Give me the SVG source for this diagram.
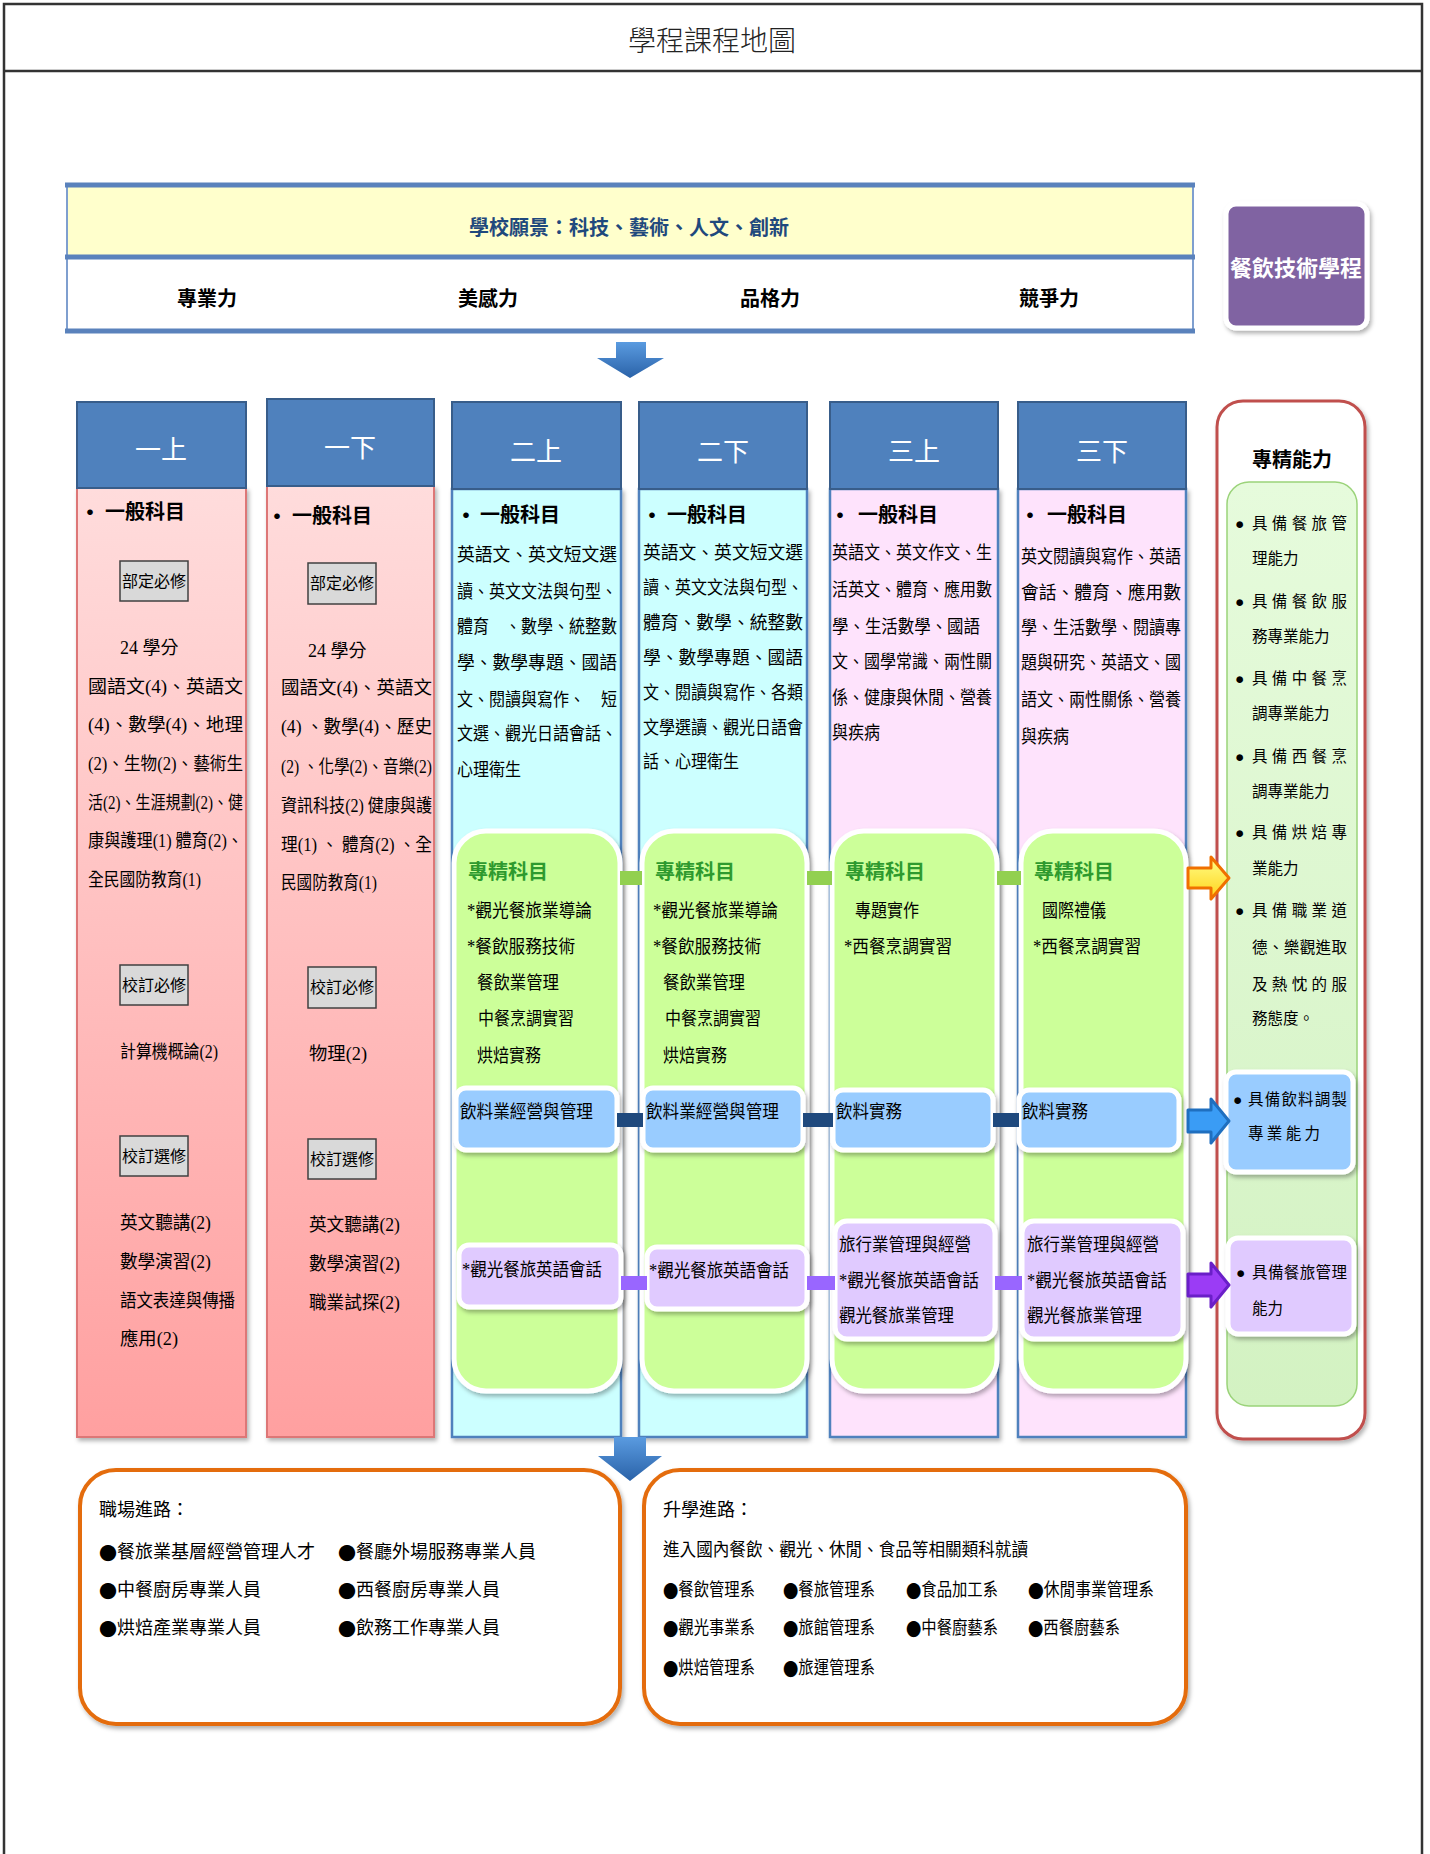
<svg xmlns="http://www.w3.org/2000/svg" width="1430" height="1854" viewBox="0 0 1430 1854">
<style>
.t{font-family:"Liberation Serif","Noto Sans CJK TC",sans-serif;font-size:16px;fill:#000;dominant-baseline:central}
.c{font-family:"Liberation Serif","Noto Sans CJK TC",sans-serif;font-size:18px;fill:#000;dominant-baseline:central}
.bl{font-family:"Noto Sans CJK TC",sans-serif}
.b{font-family:"Noto Sans CJK TC",sans-serif;font-weight:bold;fill:#000;dominant-baseline:central}
.hd{font-family:"Noto Sans CJK TC",sans-serif;font-size:26px;fill:#fff;text-anchor:middle;dominant-baseline:central}
.hdr{fill:#4f81bd;stroke:#385d8a;stroke-width:2}
.pink{fill:url(#gPink);stroke:#dd7777;stroke-width:2}
.cyan{fill:#ccffff;stroke:#4f81bd;stroke-width:2.5}
.lav{fill:#fee3fc;stroke:#4f81bd;stroke-width:2.5}
.grn{fill:#ccff99;stroke:#fff;stroke-width:5}
.blu{fill:#99ccff;stroke:#fff;stroke-width:5}
.pur{fill:#e0caff;stroke:#fff;stroke-width:5}
.tag{fill:#d9d9d9;stroke:#404040;stroke-width:1.5}
.gt{font-family:"Noto Sans CJK TC",sans-serif;font-weight:bold;font-size:20px;fill:#2e9a2e;dominant-baseline:central}
.rc{font-family:"Liberation Serif","Noto Sans CJK TC",sans-serif;font-size:15.5px;fill:#000;dominant-baseline:central}
.org{fill:#fff;stroke:#e46c0a;stroke-width:4}
</style>
<defs>
<filter id="sh" x="-10%" y="-10%" width="130%" height="130%"><feDropShadow dx="2" dy="3" stdDeviation="2" flood-color="#000" flood-opacity="0.3"/></filter>
<linearGradient id="gPink" x1="0" y1="0" x2="0" y2="1"><stop offset="0" stop-color="#ffdcdc"/><stop offset="1" stop-color="#ffa0a0"/></linearGradient>
<linearGradient id="gArrow" x1="0" y1="0" x2="0" y2="1"><stop offset="0" stop-color="#5a9be0"/><stop offset="1" stop-color="#2a62a8"/></linearGradient>
<linearGradient id="gYel" x1="0" y1="0" x2="0" y2="1"><stop offset="0" stop-color="#ffff88"/><stop offset="1" stop-color="#ffd21a"/></linearGradient>
<linearGradient id="gRG" x1="0" y1="0" x2="0" y2="1"><stop offset="0" stop-color="#e6fbdc"/><stop offset="1" stop-color="#d3f2c2"/></linearGradient>
</defs>
<rect width="1430" height="1854" fill="#fff"/>

<g id="frame">
<path d="M4,1854 V4 H1422 V1854" fill="none" stroke="#333" stroke-width="2.5"/>
<line x1="4" y1="71" x2="1422" y2="71" stroke="#333" stroke-width="2.5"/>
<text x="712" y="39" font-family="Noto Sans CJK TC, sans-serif" font-size="28" font-weight="300" fill="#222" text-anchor="middle" dominant-baseline="central">學程課程地圖</text>
</g>

<g id="vision">
<rect x="67" y="185" width="1126" height="72" fill="#ffffcc"/>
<rect x="67" y="257" width="1126" height="74" fill="#fff"/>
<line x1="67" y1="185" x2="67" y2="331" stroke="#7f9fcf" stroke-width="2"/>
<line x1="1193" y1="185" x2="1193" y2="331" stroke="#7f9fcf" stroke-width="2"/>
<line x1="65" y1="185" x2="1195" y2="185" stroke="#5a82bc" stroke-width="5"/>
<line x1="65" y1="257" x2="1195" y2="257" stroke="#5a82bc" stroke-width="5"/>
<line x1="65" y1="331" x2="1195" y2="331" stroke="#5a82bc" stroke-width="5"/>
<text class="b" x="629" y="226" font-size="20" style="fill:#1f497d" text-anchor="middle">學校願景：科技、藝術、人文、創新</text>
<text class="b" x="207" y="297" font-size="20" text-anchor="middle">專業力</text>
<text class="b" x="488" y="297" font-size="20" text-anchor="middle">美感力</text>
<text class="b" x="770" y="297" font-size="20" text-anchor="middle">品格力</text>
<text class="b" x="1049" y="297" font-size="20" text-anchor="middle">競爭力</text>
</g>

<g id="program">
<rect x="1226" y="204" width="141" height="124" rx="10" fill="#8064a2" stroke="#fff" stroke-width="5" filter="url(#sh)"/>
<text class="b" x="1296" y="266" font-size="22" style="fill:#fff" text-anchor="middle">餐飲技術學程</text>
</g>

<g id="col1">
<rect class="pink" x="77" y="488" width="169" height="949" filter="url(#sh)"/>
<rect class="hdr" x="77" y="402" width="169" height="86"/>
<text class="hd" x="161" y="447">一上</text>
<text class="b" x="79" y="510" font-size="22">•</text>
<text class="b" x="105" y="510" font-size="20">一般科目</text>
<rect class="tag" x="120" y="561" width="68" height="40"/>
<text class="t" x="154" y="581" text-anchor="middle">部定必修</text>
<text class="c" x="120" y="648">24 學分</text>
<text class="c" x="88" y="687" textLength="155" lengthAdjust="spacingAndGlyphs">國語文(4)、英語文</text>
<text class="c" x="88" y="725" textLength="155" lengthAdjust="spacingAndGlyphs">(4)、數學(4)、地理</text>
<text class="c" x="88" y="764" textLength="155" lengthAdjust="spacingAndGlyphs">(2)、生物(2)、藝術生</text>
<text class="c" x="88" y="803" textLength="155" lengthAdjust="spacingAndGlyphs">活(2)、生涯規劃(2)、健</text>
<text class="c" x="88" y="841" textLength="155" lengthAdjust="spacingAndGlyphs">康與護理(1) 體育(2)、</text>
<text class="c" x="88" y="880" textLength="113" lengthAdjust="spacingAndGlyphs">全民國防教育(1)</text>
<rect class="tag" x="120" y="965" width="68" height="40"/>
<text class="t" x="154" y="985" text-anchor="middle">校訂必修</text>
<text class="c" x="120" y="1052" textLength="98" lengthAdjust="spacingAndGlyphs">計算機概論(2)</text>
<rect class="tag" x="120" y="1136" width="68" height="40"/>
<text class="t" x="154" y="1156" text-anchor="middle">校訂選修</text>
<text class="c" x="120" y="1223" textLength="91" lengthAdjust="spacingAndGlyphs">英文聽講(2)</text>
<text class="c" x="120" y="1262" textLength="91" lengthAdjust="spacingAndGlyphs">數學演習(2)</text>
<text class="c" x="120" y="1301" textLength="115" lengthAdjust="spacingAndGlyphs">語文表達與傳播</text>
<text class="c" x="120" y="1339" textLength="58" lengthAdjust="spacingAndGlyphs">應用(2)</text>
</g>

<g id="col2">
<rect class="pink" x="267" y="486" width="167" height="951" filter="url(#sh)"/>
<rect class="hdr" x="267" y="399" width="167" height="87"/>
<text class="hd" x="350" y="445">一下</text>
<text class="b" x="266" y="514" font-size="22">•</text>
<text class="b" x="292" y="514" font-size="20">一般科目</text>
<rect class="tag" x="308" y="563" width="68" height="41"/>
<text class="t" x="342" y="583" text-anchor="middle">部定必修</text>
<text class="c" x="308" y="651">24 學分</text>
<text class="c" x="281" y="688" textLength="151" lengthAdjust="spacingAndGlyphs">國語文(4)、英語文</text>
<text class="c" x="281" y="727" textLength="151" lengthAdjust="spacingAndGlyphs">(4) 、數學(4)、歷史</text>
<text class="c" x="281" y="767" textLength="151" lengthAdjust="spacingAndGlyphs">(2) 、化學(2)、音樂(2)</text>
<text class="c" x="281" y="806" textLength="151" lengthAdjust="spacingAndGlyphs">資訊科技(2) 健康與護</text>
<text class="c" x="281" y="845" textLength="151" lengthAdjust="spacingAndGlyphs">理(1) 、 體育(2) 、全</text>
<text class="c" x="281" y="883" textLength="96" lengthAdjust="spacingAndGlyphs">民國防教育(1)</text>
<rect class="tag" x="308" y="967" width="68" height="41"/>
<text class="t" x="342" y="987" text-anchor="middle">校訂必修</text>
<text class="c" x="309" y="1054" textLength="58" lengthAdjust="spacingAndGlyphs">物理(2)</text>
<rect class="tag" x="308" y="1139" width="68" height="40"/>
<text class="t" x="342" y="1159" text-anchor="middle">校訂選修</text>
<text class="c" x="309" y="1225" textLength="91" lengthAdjust="spacingAndGlyphs">英文聽講(2)</text>
<text class="c" x="309" y="1264" textLength="91" lengthAdjust="spacingAndGlyphs">數學演習(2)</text>
<text class="c" x="309" y="1303" textLength="91" lengthAdjust="spacingAndGlyphs">職業試探(2)</text>
</g>

<g id="col3">
<rect class="cyan" x="452" y="489" width="169" height="948" filter="url(#sh)"/>
<rect class="hdr" x="452" y="402" width="169" height="87"/>
<text class="hd" x="536" y="449">二上</text>
<text class="b" x="455" y="513" font-size="22">•</text>
<text class="b" x="480" y="513" font-size="20">一般科目</text>
<text class="c" x="457" y="555" textLength="160" lengthAdjust="spacingAndGlyphs">英語文、英文短文選</text>
<text class="c" x="457" y="592" textLength="160" lengthAdjust="spacingAndGlyphs">讀、英文文法與句型、</text>
<text class="c" x="457" y="627" textLength="160" lengthAdjust="spacingAndGlyphs">體育　、數學、統整數</text>
<text class="c" x="457" y="663" textLength="160" lengthAdjust="spacingAndGlyphs">學、數學專題、國語</text>
<text class="c" x="457" y="700" textLength="160" lengthAdjust="spacingAndGlyphs">文、閱讀與寫作、　短</text>
<text class="c" x="457" y="734" textLength="160" lengthAdjust="spacingAndGlyphs">文選、觀光日語會話、</text>
<text class="c" x="457" y="770" textLength="64" lengthAdjust="spacingAndGlyphs">心理衛生</text>
<rect class="grn" x="454" y="831" width="166" height="560" rx="32" filter="url(#sh)"/>
<text class="gt" x="468" y="870">專精科目</text>
<text class="c" x="467" y="911" textLength="125" lengthAdjust="spacingAndGlyphs">*觀光餐旅業導論</text>
<text class="c" x="467" y="947" textLength="108" lengthAdjust="spacingAndGlyphs">*餐飲服務技術</text>
<text class="c" x="477" y="983" textLength="82" lengthAdjust="spacingAndGlyphs">餐飲業管理</text>
<text class="c" x="478" y="1019" textLength="96" lengthAdjust="spacingAndGlyphs">中餐烹調實習</text>
<text class="c" x="477" y="1056" textLength="64" lengthAdjust="spacingAndGlyphs">烘焙實務</text>
<rect class="blu" x="456" y="1088" width="161" height="62" rx="10" filter="url(#sh)"/>
<text class="c" x="460" y="1112" textLength="133" lengthAdjust="spacingAndGlyphs">飲料業經營與管理</text>
<rect class="pur" x="459" y="1245" width="162" height="62" rx="10" filter="url(#sh)"/>
<text class="c" x="462" y="1270" textLength="140" lengthAdjust="spacingAndGlyphs">*觀光餐旅英語會話</text>
</g>

<g id="col4">
<rect class="cyan" x="639" y="489" width="168" height="948" filter="url(#sh)"/>
<rect class="hdr" x="639" y="402" width="168" height="87"/>
<text class="hd" x="723" y="449">二下</text>
<text class="b" x="641" y="513" font-size="22">•</text>
<text class="b" x="667" y="513" font-size="20">一般科目</text>
<text class="c" x="643" y="553" textLength="160" lengthAdjust="spacingAndGlyphs">英語文、英文短文選</text>
<text class="c" x="643" y="588" textLength="160" lengthAdjust="spacingAndGlyphs">讀、英文文法與句型、</text>
<text class="c" x="643" y="623" textLength="160" lengthAdjust="spacingAndGlyphs">體育、數學、統整數</text>
<text class="c" x="643" y="658" textLength="160" lengthAdjust="spacingAndGlyphs">學、數學專題、國語</text>
<text class="c" x="643" y="693" textLength="160" lengthAdjust="spacingAndGlyphs">文、閱讀與寫作、各類</text>
<text class="c" x="643" y="728" textLength="160" lengthAdjust="spacingAndGlyphs">文學選讀、觀光日語會</text>
<text class="c" x="643" y="762" textLength="96" lengthAdjust="spacingAndGlyphs">話、心理衛生</text>
<rect class="grn" x="642" y="831" width="165" height="560" rx="32" filter="url(#sh)"/>
<text class="gt" x="655" y="870">專精科目</text>
<text class="c" x="653" y="911" textLength="125" lengthAdjust="spacingAndGlyphs">*觀光餐旅業導論</text>
<text class="c" x="653" y="947" textLength="108" lengthAdjust="spacingAndGlyphs">*餐飲服務技術</text>
<text class="c" x="663" y="983" textLength="82" lengthAdjust="spacingAndGlyphs">餐飲業管理</text>
<text class="c" x="665" y="1019" textLength="96" lengthAdjust="spacingAndGlyphs">中餐烹調實習</text>
<text class="c" x="663" y="1056" textLength="64" lengthAdjust="spacingAndGlyphs">烘焙實務</text>
<rect class="blu" x="643" y="1088" width="160" height="62" rx="10" filter="url(#sh)"/>
<text class="c" x="646" y="1112" textLength="133" lengthAdjust="spacingAndGlyphs">飲料業經營與管理</text>
<rect class="pur" x="647" y="1247" width="160" height="62" rx="10" filter="url(#sh)"/>
<text class="c" x="649" y="1271" textLength="140" lengthAdjust="spacingAndGlyphs">*觀光餐旅英語會話</text>
</g>

<g id="col5">
<rect class="lav" x="830" y="489" width="168" height="948" filter="url(#sh)"/>
<rect class="hdr" x="830" y="402" width="168" height="87"/>
<text class="hd" x="914" y="449">三上</text>
<text class="b" x="829" y="513" font-size="22">•</text>
<text class="b" x="858" y="513" font-size="20">一般科目</text>
<text class="c" x="832" y="553" textLength="160" lengthAdjust="spacingAndGlyphs">英語文、英文作文、生</text>
<text class="c" x="832" y="590" textLength="160" lengthAdjust="spacingAndGlyphs">活英文、體育、應用數</text>
<text class="c" x="832" y="627" textLength="148" lengthAdjust="spacingAndGlyphs">學、生活數學、國語</text>
<text class="c" x="832" y="662" textLength="160" lengthAdjust="spacingAndGlyphs">文、國學常識、兩性關</text>
<text class="c" x="832" y="698" textLength="160" lengthAdjust="spacingAndGlyphs">係、健康與休閒、營養</text>
<text class="c" x="832" y="733" textLength="48" lengthAdjust="spacingAndGlyphs">與疾病</text>
<rect class="grn" x="832" y="831" width="165" height="560" rx="32" filter="url(#sh)"/>
<text class="gt" x="845" y="870">專精科目</text>
<text class="c" x="855" y="911" textLength="64" lengthAdjust="spacingAndGlyphs">專題實作</text>
<text class="c" x="844" y="947" textLength="108" lengthAdjust="spacingAndGlyphs">*西餐烹調實習</text>
<rect class="blu" x="833" y="1090" width="160" height="60" rx="10" filter="url(#sh)"/>
<text class="c" x="836" y="1112" textLength="66" lengthAdjust="spacingAndGlyphs">飲料實務</text>
<rect class="pur" x="835" y="1221" width="160" height="118" rx="12" filter="url(#sh)"/>
<text class="c" x="839" y="1245" textLength="132" lengthAdjust="spacingAndGlyphs">旅行業管理與經營</text>
<text class="c" x="839" y="1281" textLength="140" lengthAdjust="spacingAndGlyphs">*觀光餐旅英語會話</text>
<text class="c" x="839" y="1316" textLength="115" lengthAdjust="spacingAndGlyphs">觀光餐旅業管理</text>
</g>

<g id="col6">
<rect class="lav" x="1018" y="489" width="168" height="948" filter="url(#sh)"/>
<rect class="hdr" x="1018" y="402" width="168" height="87"/>
<text class="hd" x="1102" y="449">三下</text>
<text class="b" x="1019" y="513" font-size="22">•</text>
<text class="b" x="1047" y="513" font-size="20">一般科目</text>
<text class="c" x="1021" y="557" textLength="160" lengthAdjust="spacingAndGlyphs">英文閱讀與寫作、英語</text>
<text class="c" x="1021" y="593" textLength="160" lengthAdjust="spacingAndGlyphs">會話、體育、應用數</text>
<text class="c" x="1021" y="628" textLength="160" lengthAdjust="spacingAndGlyphs">學、生活數學、閱讀專</text>
<text class="c" x="1021" y="663" textLength="160" lengthAdjust="spacingAndGlyphs">題與研究、英語文、國</text>
<text class="c" x="1021" y="700" textLength="160" lengthAdjust="spacingAndGlyphs">語文、兩性關係、營養</text>
<text class="c" x="1021" y="737" textLength="48" lengthAdjust="spacingAndGlyphs">與疾病</text>
<rect class="grn" x="1021" y="831" width="165" height="560" rx="32" filter="url(#sh)"/>
<text class="gt" x="1034" y="870">專精科目</text>
<text class="c" x="1042" y="911" textLength="64" lengthAdjust="spacingAndGlyphs">國際禮儀</text>
<text class="c" x="1033" y="947" textLength="108" lengthAdjust="spacingAndGlyphs">*西餐烹調實習</text>
<rect class="blu" x="1019" y="1090" width="160" height="60" rx="10" filter="url(#sh)"/>
<text class="c" x="1022" y="1112" textLength="66" lengthAdjust="spacingAndGlyphs">飲料實務</text>
<rect class="pur" x="1022" y="1221" width="161" height="118" rx="12" filter="url(#sh)"/>
<text class="c" x="1027" y="1245" textLength="132" lengthAdjust="spacingAndGlyphs">旅行業管理與經營</text>
<text class="c" x="1027" y="1281" textLength="140" lengthAdjust="spacingAndGlyphs">*觀光餐旅英語會話</text>
<text class="c" x="1027" y="1316" textLength="115" lengthAdjust="spacingAndGlyphs">觀光餐旅業管理</text>
</g>

<g id="abilities">
<rect x="1217" y="401" width="148" height="1038" rx="26" fill="#fff" stroke="#c0504d" stroke-width="3" filter="url(#sh)"/>
<text class="b" x="1292" y="458" font-size="20" text-anchor="middle">專精能力</text>
<rect x="1227" y="482" width="130" height="924" rx="22" fill="url(#gRG)" stroke="#9bd37a" stroke-width="1.5"/>
<text class="rc bl" x="1235" y="523" font-size="13">●</text><text class="rc" x="1252" y="523" textLength="95" lengthAdjust="spacing">具備餐旅管</text>
<text class="rc" x="1252" y="558">理能力</text>
<text class="rc bl" x="1235" y="601" font-size="13">●</text><text class="rc" x="1252" y="601" textLength="95" lengthAdjust="spacing">具備餐飲服</text>
<text class="rc" x="1252" y="636">務專業能力</text>
<text class="rc bl" x="1235" y="678" font-size="13">●</text><text class="rc" x="1252" y="678" textLength="95" lengthAdjust="spacing">具備中餐烹</text>
<text class="rc" x="1252" y="713">調專業能力</text>
<text class="rc bl" x="1235" y="756" font-size="13">●</text><text class="rc" x="1252" y="756" textLength="95" lengthAdjust="spacing">具備西餐烹</text>
<text class="rc" x="1252" y="791">調專業能力</text>
<text class="rc bl" x="1235" y="832" font-size="13">●</text><text class="rc" x="1252" y="832" textLength="95" lengthAdjust="spacing">具備烘焙專</text>
<text class="rc" x="1252" y="868">業能力</text>
<text class="rc bl" x="1235" y="910" font-size="13">●</text><text class="rc" x="1252" y="910" textLength="95" lengthAdjust="spacing">具備職業道</text>
<text class="rc" x="1252" y="947" textLength="95" lengthAdjust="spacing">德、樂觀進取</text>
<text class="rc" x="1252" y="984" textLength="95" lengthAdjust="spacing">及熱忱的服</text>
<text class="rc" x="1252" y="1018">務態度。</text>
<rect class="blu" x="1226" y="1072" width="127" height="100" rx="10" filter="url(#sh)"/>
<text class="rc bl" x="1233" y="1099" font-size="13">●</text><text class="rc" x="1248" y="1099" textLength="99" lengthAdjust="spacing">具備飲料調製</text>
<text class="rc" x="1248" y="1133" textLength="72" lengthAdjust="spacing">專業能力</text>
<rect class="pur" x="1228" y="1238" width="126" height="96" rx="10" filter="url(#sh)"/>
<text class="rc bl" x="1236" y="1272" font-size="13">●</text><text class="rc" x="1252" y="1272" textLength="95" lengthAdjust="spacing">具備餐旅管理</text>
<text class="rc" x="1252" y="1308">能力</text>
</g>

<g id="career">
<rect class="org" x="80" y="1470" width="540" height="254" rx="36" filter="url(#sh)"/>
<text class="c" x="99" y="1510" font-size="21">職場進路：</text>
<text class="c" x="99" y="1552"><tspan class="bl">●</tspan>餐旅業基層經營管理人才</text>
<text class="c" x="338" y="1552"><tspan class="bl">●</tspan>餐廳外場服務專業人員</text>
<text class="c" x="99" y="1590"><tspan class="bl">●</tspan>中餐廚房專業人員</text>
<text class="c" x="338" y="1590"><tspan class="bl">●</tspan>西餐廚房專業人員</text>
<text class="c" x="99" y="1628"><tspan class="bl">●</tspan>烘焙產業專業人員</text>
<text class="c" x="338" y="1628"><tspan class="bl">●</tspan>飲務工作專業人員</text>
</g>

<g id="study">
<rect class="org" x="644" y="1470" width="542" height="254" rx="36" filter="url(#sh)"/>
<text class="c" x="663" y="1510" font-size="21">升學進路：</text>
<text class="c" x="663" y="1550" textLength="365" lengthAdjust="spacingAndGlyphs">進入國內餐飲、觀光、休閒、食品等相關類科就讀</text>
<text class="c" x="663" y="1590" textLength="92" lengthAdjust="spacingAndGlyphs"><tspan class="bl">●</tspan>餐飲管理系</text>
<text class="c" x="783" y="1590" textLength="92" lengthAdjust="spacingAndGlyphs"><tspan class="bl">●</tspan>餐旅管理系</text>
<text class="c" x="906" y="1590" textLength="92" lengthAdjust="spacingAndGlyphs"><tspan class="bl">●</tspan>食品加工系</text>
<text class="c" x="1028" y="1590" textLength="126" lengthAdjust="spacingAndGlyphs"><tspan class="bl">●</tspan>休閒事業管理系</text>
<text class="c" x="663" y="1628" textLength="92" lengthAdjust="spacingAndGlyphs"><tspan class="bl">●</tspan>觀光事業系</text>
<text class="c" x="783" y="1628" textLength="92" lengthAdjust="spacingAndGlyphs"><tspan class="bl">●</tspan>旅館管理系</text>
<text class="c" x="906" y="1628" textLength="92" lengthAdjust="spacingAndGlyphs"><tspan class="bl">●</tspan>中餐廚藝系</text>
<text class="c" x="1028" y="1628" textLength="92" lengthAdjust="spacingAndGlyphs"><tspan class="bl">●</tspan>西餐廚藝系</text>
<text class="c" x="663" y="1668" textLength="92" lengthAdjust="spacingAndGlyphs"><tspan class="bl">●</tspan>烘焙管理系</text>
<text class="c" x="783" y="1668" textLength="92" lengthAdjust="spacingAndGlyphs"><tspan class="bl">●</tspan>旅運管理系</text>
</g>

<g id="connectors">
<path d="M616,342 H646 V358 H664 L630,378 L597,358 H616 Z" fill="url(#gArrow)"/>
<path d="M614,1437 H646 V1456 H662 L630,1481 L598,1456 H614 Z" fill="url(#gArrow)"/>
<rect x="620" y="871" width="22" height="14" fill="#92d050"/>
<rect x="807" y="871" width="25" height="14" fill="#92d050"/>
<rect x="997" y="871" width="24" height="14" fill="#92d050"/>
<rect x="617" y="1113" width="26" height="14" fill="#1f497d"/>
<rect x="803" y="1113" width="30" height="14" fill="#1f497d"/>
<rect x="993" y="1113" width="26" height="14" fill="#1f497d"/>
<rect x="621" y="1276" width="26" height="14" fill="#9966ff"/>
<rect x="807" y="1276" width="28" height="14" fill="#9966ff"/>
<rect x="995" y="1276" width="27" height="14" fill="#9966ff"/>
<path d="M1188,868 H1211 V857 L1229,878 L1211,899 V888 H1188 Z" fill="url(#gYel)" stroke="#f07000" stroke-width="3" stroke-linejoin="round"/>
<path d="M1188,1110 H1211 V1099 L1229,1121 L1211,1143 V1132 H1188 Z" fill="#3a9cf5" stroke="#1f6fbf" stroke-width="3" stroke-linejoin="round"/>
<path d="M1188,1274 H1211 V1263 L1229,1285 L1211,1307 V1296 H1188 Z" fill="#9b3cf5" stroke="#6a1fc8" stroke-width="3" stroke-linejoin="round"/>
</g>
</svg>
